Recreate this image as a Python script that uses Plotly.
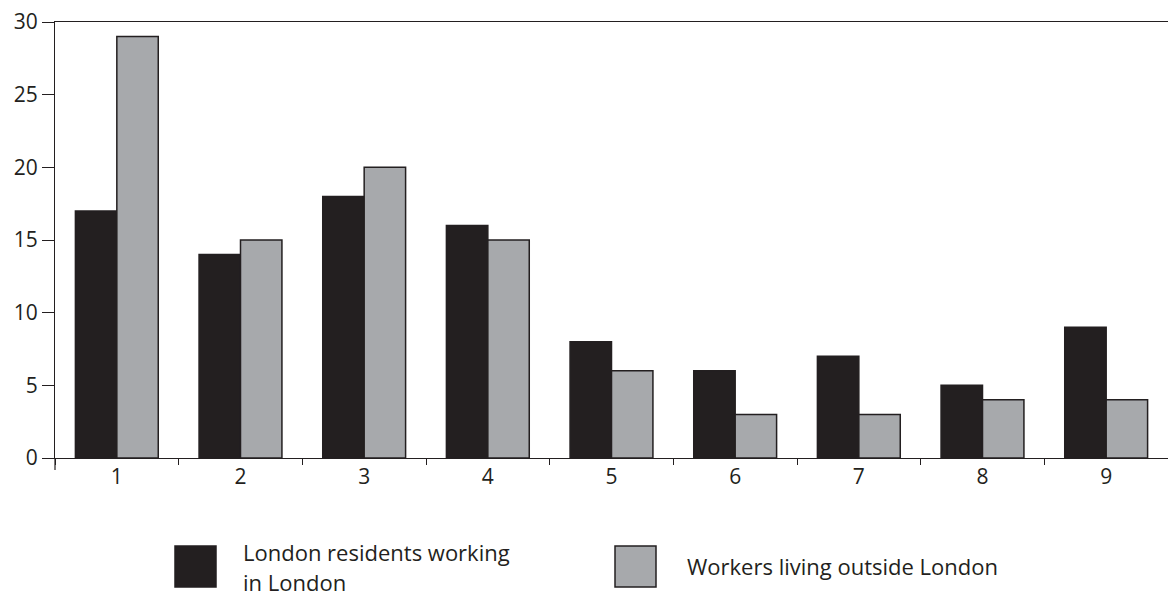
import plotly.graph_objects as go

categories = ["1", "2", "3", "4", "5", "6", "7", "8", "9"]
london_residents = [17, 14, 18, 16, 8, 6, 7, 5, 9]
outside_workers = [29, 15, 20, 15, 6, 3, 3, 4, 4]
series_names = ["London residents working in London", "Workers living outside London"]
legend_lines = [["London residents working", "in London"], ["Workers living outside London"]]
y_ticks = [0, 5, 10, 15, 20, 25, 30]

DARK = "#231f20"
GREY = "#a7a9ac"
FONT = "Open Sans"

fig = go.Figure()
fig.add_trace(go.Bar(x=categories, y=london_residents, name=series_names[0],
                     marker=dict(color=DARK, line=dict(color=DARK, width=1.5)),
                     showlegend=False))
fig.add_trace(go.Bar(x=categories, y=outside_workers, name=series_names[1],
                     marker=dict(color=GREY, line=dict(color=DARK, width=1.5)),
                     showlegend=False))

W, H = 1168, 598
ml, mr, mt, mb = 55, 0, 22, 140
pw, ph = W - ml - mr, H - mt - mb

def px(x):
    return (x - ml) / pw

def py(y):
    return (H - mb - y) / ph

# legend boxes and text (drawn manually to match the large swatches)
legend_items = [(175, 241, DARK, legend_lines[0], [552, 582]),
                (615, 685, GREY, legend_lines[1], [566])]
for sx, tx, col, lines, tys in legend_items:
    fig.add_shape(type="rect", xref="paper", yref="paper",
                  x0=px(sx), x1=px(sx + 41), y0=py(546), y1=py(587),
                  fillcolor=col, line=dict(color=DARK, width=1.5))
    for line, ty in zip(lines, tys):
        fig.add_annotation(xref="paper", yref="paper", x=px(tx), y=py(ty),
                           xanchor="left", yanchor="middle", align="left",
                           text=line, showarrow=False,
                           font=dict(family=FONT, size=22, color=DARK))

# extend y-axis line below zero
fig.add_shape(type="line", xref="paper", yref="paper", x0=0, x1=0,
              y0=0, y1=py(470), line=dict(color=DARK, width=1.2))

fig.update_layout(
    width=W, height=H,
    margin=dict(l=ml, r=mr, t=mt, b=mb),
    plot_bgcolor="white", paper_bgcolor="white",
    barmode="group", bargap=0.33, bargroupgap=0,
    font=dict(family=FONT, size=21, color=DARK),
)
fig.update_xaxes(showline=True, linecolor=DARK, linewidth=1.2, mirror=True,
                 ticks="outside", tickson="boundaries", ticklen=6, tickcolor=DARK,
                 tickwidth=1, showgrid=False, zeroline=False,
                 tickfont=dict(family=FONT, size=21, color=DARK))
fig.update_yaxes(range=[0, 30], tickvals=y_ticks, showline=True, linecolor=DARK,
                 linewidth=1.2, ticks="outside", ticklen=12, tickcolor=DARK,
                 tickwidth=1.2, showgrid=False, zeroline=False,
                 tickfont=dict(family=FONT, size=21, color=DARK))

fig.write_html("out.html", config={"displayModeBar": False},
               post_script="document.body.style.margin='0';document.body.style.overflow='hidden';")
